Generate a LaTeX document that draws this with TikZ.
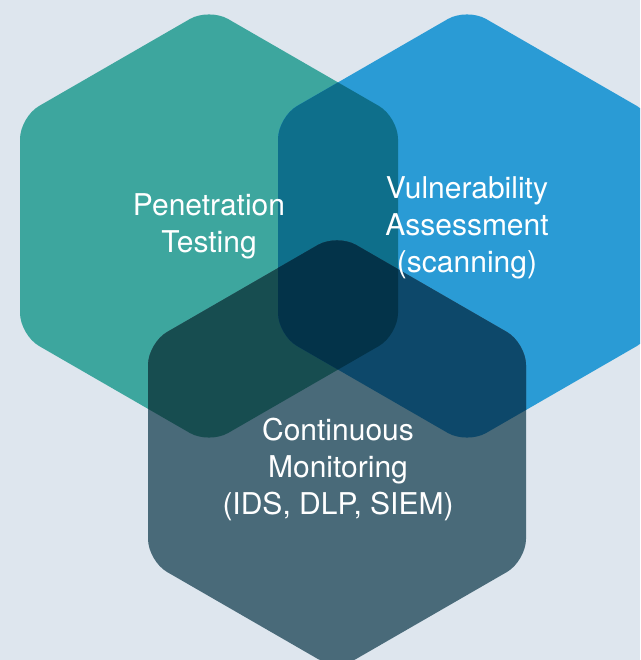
\documentclass[tikz,border=0pt]{standalone}
\usepackage{fontspec}
\setmainfont{TeX Gyre Heros}
\definecolor{nenhex}{HTML}{DEE6EE}
\definecolor{pentest}{HTML}{3DA69E}
\definecolor{vulnscan}{HTML}{2A9BD5}
\definecolor{pentestvuln}{HTML}{0E6F8B}
\definecolor{monitor}{HTML}{496A79}
\definecolor{monitorpen}{HTML}{174D50}
\definecolor{monitorvuln}{HTML}{0D486A}
\definecolor{giuahex}{HTML}{033349}
% luc giac dinh nhon, tam (#1,#2)
\newcommand{\hexa}[2]{(#1,#2) ++(-189,0) -- ++(0,109) -- ++(189,109) -- ++(189,-109) -- ++(0,-218) -- ++(-189,-109) -- ++(-189,109) -- cycle}

\begin{document}
\begin{tikzpicture}[x=1pt,y=-1pt,rounded corners=22pt,
	nhan/.style={text=white,align=center,font=\fontsize{30}{37}\selectfont}]
			\fill[nenhex,sharp corners] (0,0) rectangle (640,660);
			\useasboundingbox (0,0) rectangle (640,660);
			\begin{scope}
			\clip[sharp corners] (0,0) rectangle (640,660);
			\fill[pentest] \hexa{209}{226};
			\fill[vulnscan] \hexa{467}{226};
			\begin{scope}
				\clip \hexa{209}{226};
				\fill[pentestvuln] \hexa{467}{226};
			\end{scope}
			\fill[monitor] \hexa{337}{452};
			\begin{scope}
				\clip \hexa{337}{452};
				\fill[monitorpen] \hexa{209}{226};
				\fill[monitorvuln] \hexa{467}{226};
				\clip \hexa{209}{226};
				\fill[giuahex] \hexa{467}{226};
			\end{scope}
			\end{scope}
%			\draw[red] \hexa{337}{452};
			\node[nhan] (pen) at (209,226) {Penetration\\Testing};
			\node[nhan] (vul) at (467,228) {Vulnerability\\Assessment\\(scanning)};
			\node[nhan] (mon) at (338,469) {Continuous\\Monitoring\\(IDS, DLP, SIEM)};
		\end{tikzpicture}
\end{document}
